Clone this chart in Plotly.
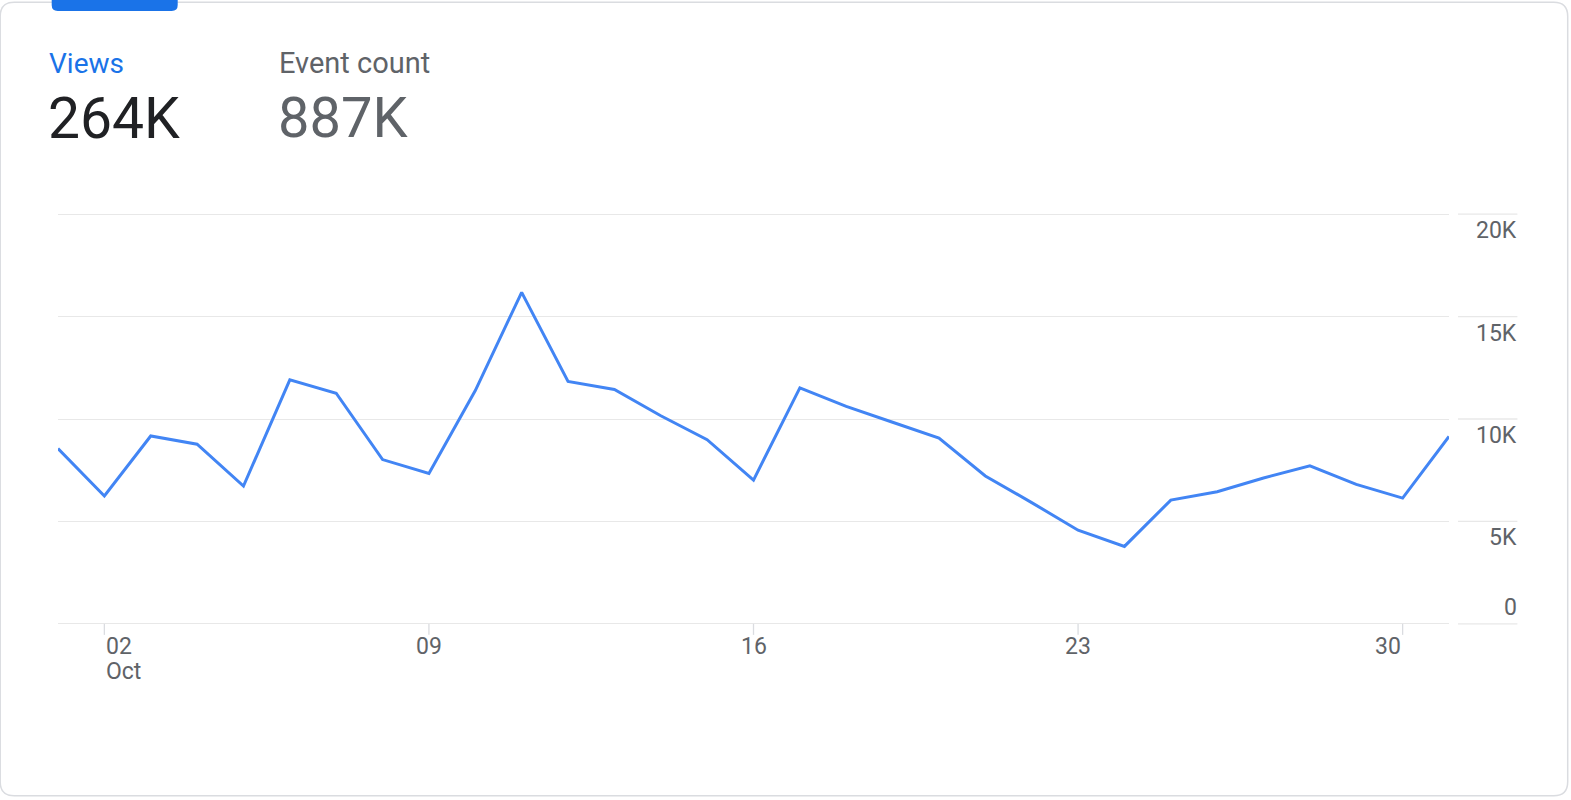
import plotly.graph_objects as go
import pandas as pd

# ---- data ----
dates = pd.date_range("2023-10-01", "2023-10-31", freq="D")
views = [8560, 6240, 9170, 8770, 6730, 11910, 11260, 8020, 7340, 11390,
         16180, 11830, 11440, 10160, 8990, 7020, 11520, 10620, 9840, 9070,
         7220, 5920, 4570, 3780, 6040, 6450, 7120, 7710, 6810, 6140, 9150]
y_ticks = [0, 5000, 10000, 15000, 20000]
y_tick_labels = ["0", "5K", "10K", "15K", "20K"]
x_tick_dates = ["2023-10-02", "2023-10-09", "2023-10-16", "2023-10-23", "2023-10-30"]
x_tick_labels = ["02", "09", "16", "23", "30"]
metric_names = ["Views", "Event count"]
metric_values = ["264K", "887K"]

# ---- geometry ----
WIDTH, HEIGHT = 1571, 800
L, R = 58.3, 1449.3
Y0PX, Y20PX = 624.0, 214.0
pxk = (Y0PX - Y20PX) / 20000.0
YMIN, YMAX = -250, 20250
T = Y20PX - (YMAX - 20000) * pxk
B = Y0PX + (0 - YMIN) * pxk
W, H = R - L, B - T


def px(x):
    return (x - L) / W


def py(y):
    return (B - y) / H


GRID = "#e8e8e8"
TXT = "#5f6368"
FONT = "Roboto, Arial, sans-serif"

fig = go.Figure()
fig.add_trace(go.Scatter(x=dates, y=views, mode="lines",
                         line=dict(color="#4285f4", width=3),
                         hoverinfo="skip", showlegend=False))

shapes = []
annotations = []

# right-hand grid segments and y labels
for v, lab in zip(y_ticks, y_tick_labels):
    shapes.append(dict(type="line", xref="paper", yref="y",
                       x0=px(1458.3), x1=px(1517.7), y0=v, y1=v,
                       line=dict(color=GRID, width=1.3)))
    annotations.append(dict(xref="paper", yref="y", x=px(1519), y=v,
                            text=lab, showarrow=False, xanchor="right",
                            yanchor="middle",
                            yshift=(16 if v == 0 else -16.5),
                            font=dict(family=FONT, size=23, color=TXT)))

# x ticks (marks + labels)
for i, (d, lab) in enumerate(zip(x_tick_dates, x_tick_labels)):
    shapes.append(dict(type="line", xref="x", yref="paper", x0=d, x1=d,
                       y0=py(624), y1=py(635),
                       line=dict(color="#dadce0", width=1.3)))
    anchor = "left" if i == 0 else ("right" if i == len(x_tick_dates) - 1 else "center")
    annotations.append(dict(xref="x", yref="paper", x=d, y=py(646.7),
                            text=lab, showarrow=False, xanchor=anchor,
                            yanchor="middle",
                            font=dict(family=FONT, size=23, color=TXT)))
annotations.append(dict(xref="x", yref="paper", x=x_tick_dates[0], y=py(671.5),
                        text="Oct", showarrow=False, xanchor="left",
                        yanchor="middle",
                        font=dict(family=FONT, size=23, color=TXT)))

# header metrics
annotations.append(dict(xref="paper", yref="paper", x=px(47.5), y=py(63),
                        text=metric_names[0], showarrow=False, xanchor="left",
                        yanchor="middle",
                        font=dict(family=FONT, size=28, color="#1a73e8")))
annotations.append(dict(xref="paper", yref="paper", x=px(277.5), y=py(63),
                        text=metric_names[1], showarrow=False, xanchor="left",
                        yanchor="middle",
                        font=dict(family=FONT, size=29, color=TXT)))
annotations.append(dict(xref="paper", yref="paper", x=px(46), y=py(118),
                        text=metric_values[0], showarrow=False, xanchor="left",
                        yanchor="middle",
                        font=dict(family=FONT, size=57, color="#202124")))
annotations.append(dict(xref="paper", yref="paper", x=px(276), y=py(118),
                        text=metric_values[1], showarrow=False, xanchor="left",
                        yanchor="middle",
                        font=dict(family=FONT, size=56, color=TXT)))

# card border
x1c, x2c, y1c, y2c, rc = 0.5, 1568.0, 2.0, 796.0, 14.0
card = (f"M {px(x1c + rc)},{py(y1c)} L {px(x2c - rc)},{py(y1c)} "
        f"Q {px(x2c)},{py(y1c)} {px(x2c)},{py(y1c + rc)} "
        f"L {px(x2c)},{py(y2c - rc)} Q {px(x2c)},{py(y2c)} {px(x2c - rc)},{py(y2c)} "
        f"L {px(x1c + rc)},{py(y2c)} Q {px(x1c)},{py(y2c)} {px(x1c)},{py(y2c - rc)} "
        f"L {px(x1c)},{py(y1c + rc)} Q {px(x1c)},{py(y1c)} {px(x1c + rc)},{py(y1c)} Z")
shapes.append(dict(type="path", xref="paper", yref="paper", path=card,
                   line=dict(color="#dadce0", width=1.5), layer="below"))

# selected-tab indicator
tx1, tx2, ty1, ty2, rt = 52.0, 178.0, -6.0, 10.7, 6.0
tab = (f"M {px(tx1)},{py(ty1)} L {px(tx2)},{py(ty1)} L {px(tx2)},{py(ty2 - rt)} "
       f"Q {px(tx2)},{py(ty2)} {px(tx2 - rt)},{py(ty2)} L {px(tx1 + rt)},{py(ty2)} "
       f"Q {px(tx1)},{py(ty2)} {px(tx1)},{py(ty2 - rt)} Z")
shapes.append(dict(type="path", xref="paper", yref="paper", path=tab,
                   fillcolor="#1a73e8", line=dict(width=0)))

fig.update_layout(
    width=WIDTH, height=HEIGHT,
    margin=dict(l=L, r=WIDTH - R, t=T, b=HEIGHT - B, pad=0),
    paper_bgcolor="white", plot_bgcolor="white",
    xaxis=dict(range=[dates[0], dates[-1]], showgrid=False, zeroline=False,
               showline=False, showticklabels=False, ticks="", fixedrange=True),
    yaxis=dict(range=[YMIN, YMAX], tickvals=y_ticks, showticklabels=False,
               showgrid=True, gridcolor=GRID, gridwidth=1.3, zeroline=False,
               showline=False, ticks="", fixedrange=True),
    shapes=shapes, annotations=annotations, showlegend=False,
)

fig.write_html("out.html", config={"displayModeBar": False},
               post_script="document.body.style.margin='0';document.body.style.overflow='hidden';")
